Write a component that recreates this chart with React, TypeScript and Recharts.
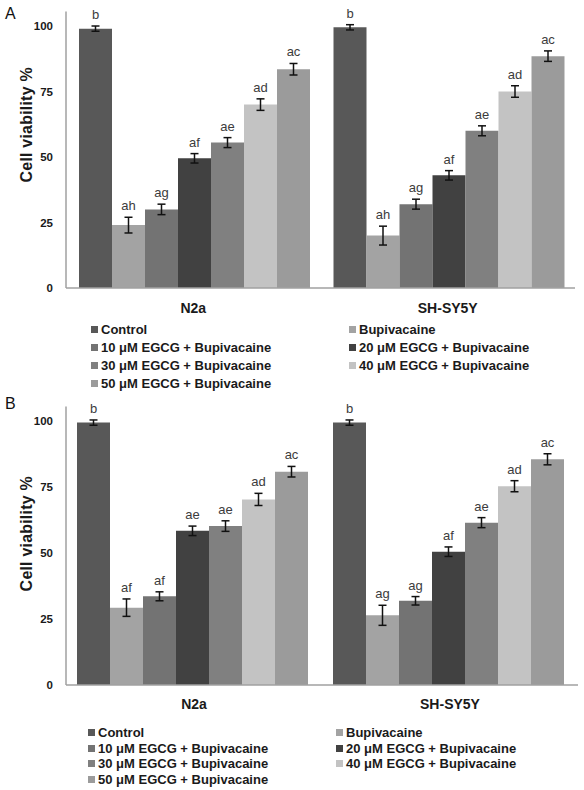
import React from "react";
import { Bar, BarChart, ErrorBar, LabelList, XAxis, YAxis } from "recharts";

const cellLines = ["N2a", "SH-SY5Y"];
const treatments = [
  "Control",
  "Bupivacaine",
  "10 μM EGCG + Bupivacaine",
  "20 μM EGCG + Bupivacaine",
  "30 μM EGCG + Bupivacaine",
  "40 μM EGCG + Bupivacaine",
  "50 μM EGCG + Bupivacaine",
];
const shades = ["#585858", "#a3a3a3", "#737373", "#414141", "#808080", "#c3c3c3", "#9b9b9b"];
const yTicks = [0, 25, 50, 75, 100];

// panel A
const aN2a = [99, 24, 30, 49.5, 55.5, 70, 83.5];
const aN2aErr = [1, 3, 2, 1.8, 1.9, 2.2, 2.2];
const aN2aSig = ["b", "ah", "ag", "af", "ae", "ad", "ac"];
const aSH = [99.5, 20, 32, 43, 60, 75, 88.5];
const aSHErr = [1, 3.6, 1.9, 1.8, 1.9, 2.2, 2];
const aSHSig = ["b", "ah", "ag", "af", "ae", "ad", "ac"];

// panel B
const bN2a = [99.4, 29.3, 33.6, 58.4, 60.2, 70.3, 80.8];
const bN2aErr = [1, 3.3, 1.7, 1.8, 2, 2.3, 2];
const bN2aSig = ["b", "af", "af", "ae", "ae", "ad", "ac"];
const bSH = [99.4, 26.4, 31.9, 50.5, 61.5, 75.3, 85.5];
const bSHErr = [1, 3.8, 1.6, 1.8, 1.9, 2.1, 2.1];
const bSHSig = ["b", "ag", "ag", "af", "ae", "ad", "ac"];

const FONT = "'Liberation Sans', Arial, sans-serif";

function buildRows(vals: number[][], errs: number[][], sigs: string[][]) {
  return cellLines.map((cell, c) => {
    const row: Record<string, any> = { cell };
    treatments.forEach((_, t) => {
      row[`v${t}`] = vals[c][t];
      row[`e${t}`] = errs[c][t];
      row[`s${t}`] = sigs[c][t];
    });
    return row;
  });
}

const rowsA = buildRows([aN2a, aSH], [aN2aErr, aSHErr], [aN2aSig, aSHSig]);
const rowsB = buildRows([bN2a, bSH], [bN2aErr, bSHErr], [bN2aSig, bSHSig]);

// letter above the error bar cap
const sigLabel = (rows: Record<string, any>[], t: number) => (p: any) => {
  const vb = p.viewBox ?? p;
  const x = Number(vb.x), y = Number(vb.y), w = Number(vb.width), h = Math.abs(Number(vb.height));
  const row = rows[p.index];
  if (!row) return null;
  const errPx = (row[`e${t}`] / row[`v${t}`]) * h;
  return (
    <text x={x + w / 2} y={y - errPx - 7} textAnchor="middle" fontSize={13} fill="#3c3c3c" fontFamily={FONT}>
      {p.value}
    </text>
  );
};

const yTitle = (shift: number) => (p: any) => {
  const vb = p.viewBox;
  const cx = vb.x + 26;
  const cy = vb.y + vb.height / 2 + shift;
  return (
    <text transform={`translate(${cx},${cy}) rotate(-90)`} textAnchor="middle" dominantBaseline="central"
      fontSize={16} fontWeight="bold" fill="#1a1a1a" fontFamily={FONT} letterSpacing={0.2}>
      Cell viability %
    </text>
  );
};

type PanelProps = {
  rows: Record<string, any>[];
  top: number;
  right: number;
  marginTop: number;
  xHeight: number;
  catGap: number;
  tickGap: number;
  titleShift: number;
};

function Panel({ rows, top, right, marginTop, xHeight, catGap, tickGap, titleShift }: PanelProps) {
  return (
    <div style={{ position: "absolute", left: 0, top }}>
      <BarChart width={584} height={320} data={rows} barGap={0} barCategoryGap={catGap}
        margin={{ top: marginTop, right, bottom: 0, left: 0 }}>
        <XAxis dataKey="cell" height={xHeight} tickLine={false} tickMargin={tickGap}
          axisLine={{ stroke: "#a0a0a0", strokeWidth: 1.5 }}
          tick={{ fontSize: 14, fontWeight: "bold", fill: "#1a1a1a", fontFamily: FONT }} />
        <YAxis width={66} domain={[0, 105.5]} ticks={yTicks} tickLine={false} tickMargin={7}
          axisLine={{ stroke: "#a0a0a0", strokeWidth: 1.5 }}
          tick={{ fontSize: 11.5, fontWeight: "bold", fill: "#1a1a1a", fontFamily: FONT }}
          label={{ content: yTitle(titleShift) }} />
        {treatments.map((name, t) => (
          <Bar key={name} dataKey={`v${t}`} name={name} fill={shades[t]} isAnimationActive={false}>
            <ErrorBar dataKey={`e${t}`} width={4} stroke="#111" strokeWidth={1.5} direction="y" />
            <LabelList dataKey={`s${t}`} content={sigLabel(rows, t)} />
          </Bar>
        ))}
      </BarChart>
    </div>
  );
}

function Legend({ top, rowH, leftX, rightX }: { top: number; rowH: number; leftX: number; rightX: number }) {
  return (
    <>
      {treatments.map((name, i) => {
        const col = i % 2;
        const row = Math.floor(i / 2);
        return (
          <div key={name} style={{
            position: "absolute", left: (col ? rightX : leftX) - 10, top: top + row * rowH,
            height: rowH, display: "flex", alignItems: "center", whiteSpace: "nowrap",
            fontFamily: FONT, fontSize: 13, fontWeight: "bold", color: "#1a1a1a",
          }}>
            <span style={{ width: 7, height: 7, background: shades[i], marginRight: 3, display: "inline-block" }} />
            {name}
          </div>
        );
      })}
    </>
  );
}

export default function App() {
  return (
    <div style={{ position: "absolute", left: 0, top: 0, width: 584, height: 790, background: "#fff", overflow: "hidden" }}>
      <Panel rows={rowsA} top={0} right={9} marginTop={11.6} xHeight={32} catGap={13} tickGap={9} titleShift={-25} />
      <Legend top={320} rowH={18} leftX={101} rightX={359} />
      <Panel rows={rowsB} top={395} right={6} marginTop={11.5} xHeight={30} catGap={11} tickGap={8} titleShift={-12} />
      <Legend top={725} rowH={15.5} leftX={98} rightX={346} />
      <div style={{ position: "absolute", left: 5, top: 5, fontFamily: FONT, fontSize: 16, color: "#111" }}>A</div>
      <div style={{ position: "absolute", left: 5, top: 395, fontFamily: FONT, fontSize: 16, color: "#111" }}>B</div>
    </div>
  );
}
